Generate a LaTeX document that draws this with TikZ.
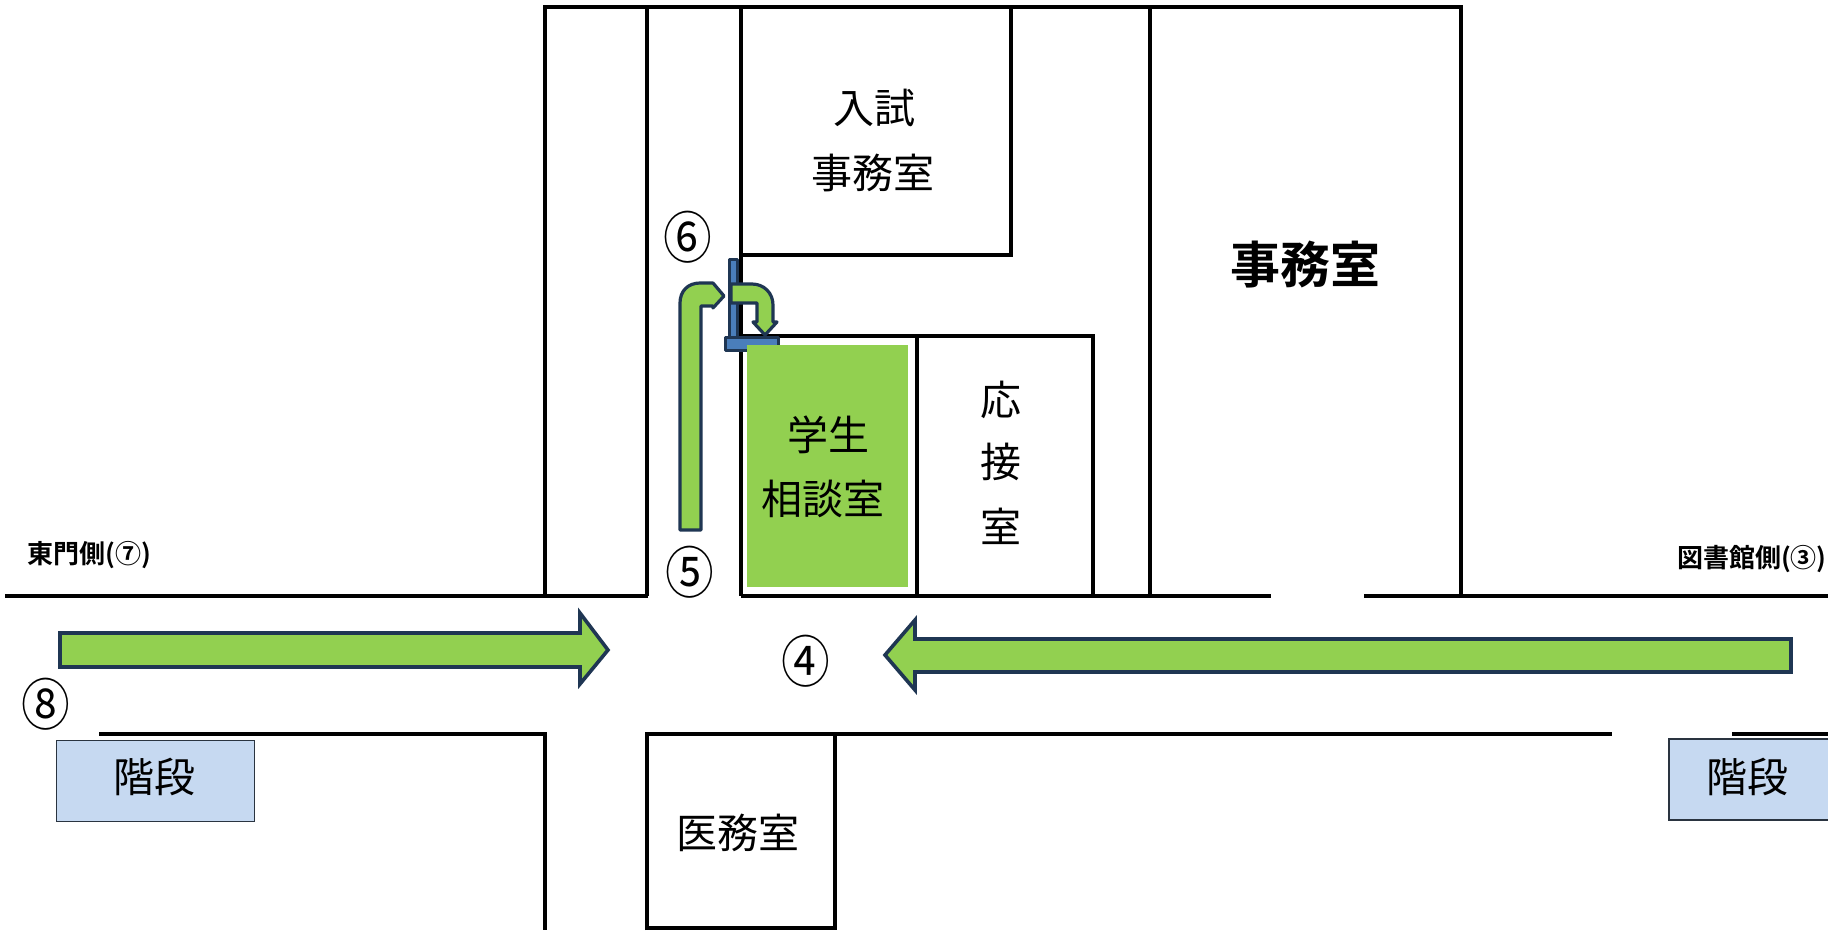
\documentclass[tikz,border=0pt]{standalone}
\usepackage{graphicx}
\usepackage{fontspec}
\setmainfont{Noto Sans CJK JP}[BoldFont={Noto Sans CJK JP Bold}]
\definecolor{grn}{HTML}{92D050}
\definecolor{navy}{HTML}{1F3653}
\definecolor{barblue}{HTML}{4A7EBB}
\definecolor{stair}{HTML}{C6D9F1}
\definecolor{stairline}{HTML}{2A3440}
\tikzset{
  wall/.style={draw=black,line width=3.2pt,line cap=butt},
  arrowshape/.style={draw=navy,fill=grn,line width=3.6pt,line join=miter},
  bendshape/.style={draw=navy,fill=grn,line width=3.2pt,line join=round},
  doorbar/.style={draw=navy,fill=barblue,line width=3pt,line join=round},
  stairbox/.style={draw=stairline,fill=stair,line width=1.4pt},
  lab/.style={inner sep=0pt,font=\fontsize{41}{41}\selectfont},
  big/.style={inner sep=0pt,font=\fontsize{50}{50}\selectfont\bfseries},
  num/.style={inner sep=0pt,font=\fontsize{56}{56}\selectfont},
  side/.style={inner sep=0pt,font=\fontsize{26}{26}\selectfont\bfseries}
}
\newcommand{\circnum}[1]{\scalebox{.87}[1]{#1}}
\begin{document}
\begin{tikzpicture}[x=1pt,y=-1pt]
\useasboundingbox (0,0) rectangle (1845,930);
% walls
\draw[wall] (545,596) -- (545,7) -- (1461,7) -- (1461,596);
\draw[wall] (647,7) -- (647,596);
\draw[wall] (741,7) -- (741,596);
\draw[wall] (741,255) -- (1011,255) -- (1011,7);
\draw[wall] (741,336) -- (1093,336) -- (1093,596);
\draw[wall] (917,336) -- (917,596);
\draw[wall] (1150,7) -- (1150,596);
\draw[wall] (5,596) -- (648,596);
\draw[wall] (741,596) -- (1271,596);
\draw[wall] (1364,596) -- (1828,596);
\draw[wall] (99,734) -- (545,734) -- (545,930);
\draw[wall] (647,930) -- (647,734) -- (1612,734);
\draw[wall] (1732,734) -- (1828,734);
\draw[wall] (835,734) -- (835,928) -- (647,928);
% door
\draw[doorbar] (729,259) rectangle (737,337);
\draw[doorbar] (725,337) rectangle (778,350);
% room
\fill[grn] (747,345) rectangle (908,587);
% route arrows
\draw[arrowshape] (60,633) -- (580,633) -- (580,613) -- (608,650) -- (580,684) -- (580,667) -- (60,667) -- cycle;
\draw[arrowshape] (1791,639) -- (915,639) -- (915,620) -- (885,655) -- (915,690) -- (915,672) -- (1791,672) -- cycle;
\draw[bendshape] (680,530) -- (680,303) .. controls (680,291) and (688,283) .. (700,283) -- (713,283) -- (724,296) -- (713,308) -- (713,306) -- (701,306) -- (701,530) -- cycle;
\draw[bendshape] (731,284) -- (752,284) .. controls (764,284) and (773,293) .. (773,305) -- (773,322) -- (777,322) -- (765,335) -- (753,322) -- (757,322) -- (757,303) -- (731,303) -- cycle;
% stairs
\node[stairbox,minimum width=198pt,minimum height=81pt,inner sep=0pt,anchor=north west] (stairL) at (56,740) {};
\fill[stair] (1669,739) rectangle (1828,820);
\draw[stairline,line width=1.4pt] (1828,739) -- (1669,739) -- (1669,820) -- (1828,820);
% labels
\node[lab] (nyushi) at (874,108) {入試};
\node[lab] (jimu1) at (873,173) {事務室};
\node[big] (jimu2) at (1305,265) {事務室};
\node[lab] (ou) at (1001,400) {応};
\node[lab] (setsu) at (1001,462) {接};
\node[lab] (shitsu) at (1001,526) {室};
\node[lab] (gaku) at (828,435) {学生};
\node[lab] (sodan) at (823,499) {相談室};
\node[lab] (imu) at (738,833) {医務室};
\node[lab] (kaiL) at (154,777) {階段};
\node[lab] (kaiR) at (1747,777) {階段};
\node[num] (n6) at (688,237) {\circnum{⑥}};
\node[num] (n5) at (690,572) {\circnum{⑤}};
\node[num] (n4) at (806,661) {\circnum{④}};
\node[num] (n8) at (46,704) {\circnum{⑧}};
\node[side,anchor=west] (east) at (27,555) {東門側(⑦)};
\node[side,anchor=east] (lib) at (1827,559) {図書館側(③)};
\end{tikzpicture}
\end{document}
